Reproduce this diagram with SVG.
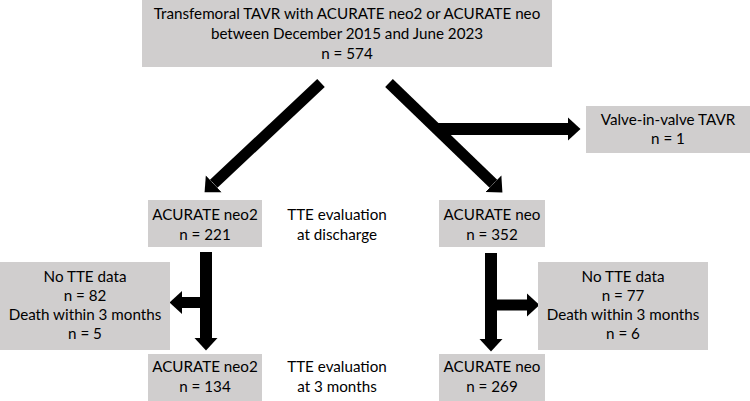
<svg xmlns="http://www.w3.org/2000/svg" width="750" height="401" viewBox="0 0 750 401">
<style>
.box{fill:#D0CECE;}
text{font-family:Lato,"Open Sans","Liberation Sans",sans-serif;font-size:15.2px;fill:#000;text-anchor:middle;}
.c{stroke:#000;fill:none;marker-end:url(#ah);}
</style>
<defs>
<marker id="ah" markerUnits="userSpaceOnUse" markerWidth="13" markerHeight="24" refX="0" refY="11.5" orient="auto" viewBox="0 0 13 23">
<path d="M0,0 L12.5,11.5 L0,23 Z" fill="#000"/>
</marker>
</defs>
<rect width="750" height="401" fill="#fff"/>
<g id="connectors">
<line class="c" x1="321" y1="83" x2="213.7" y2="183.8" stroke-width="11"/>
<line class="c" x1="389" y1="83" x2="493.4" y2="183.7" stroke-width="11"/>
<line class="c" x1="437" y1="129" x2="568" y2="129" stroke-width="12"/>
<line class="c" x1="206" y1="252" x2="206" y2="338" stroke-width="12"/>
<line class="c" x1="206" y1="302.5" x2="182" y2="302.5" stroke-width="11"/>
<line class="c" x1="491" y1="253" x2="491" y2="339" stroke-width="12"/>
<line class="c" x1="491" y1="305" x2="527" y2="305" stroke-width="11"/>
</g>
<g id="n-total">
<rect class="box" x="142" y="0" width="410" height="67"/>
<text x="347" y="19">Transfemoral TAVR with ACURATE neo2 or ACURATE neo</text>
<text x="347" y="39">between December 2015 and June 2023</text>
<text x="347" y="59">n = 574</text>
</g>
<g id="n-viv">
<rect class="box" x="586" y="106" width="164" height="47"/>
<text x="668" y="125">Valve-in-valve TAVR</text>
<text x="668" y="144">n = 1</text>
</g>
<g id="n-neo2-discharge">
<rect class="box" x="148" y="200" width="114" height="47"/>
<text x="205" y="220">ACURATE neo2</text>
<text x="205" y="240">n = 221</text>
</g>
<g id="label-discharge">
<text x="337" y="220">TTE evaluation</text>
<text x="337" y="240">at discharge</text>
</g>
<g id="n-neo-discharge">
<rect class="box" x="439" y="200" width="106" height="47"/>
<text x="492" y="220">ACURATE neo</text>
<text x="492" y="240">n = 352</text>
</g>
<g id="n-neo2-excluded">
<rect class="box" x="0" y="262" width="170" height="88"/>
<text x="85" y="282">No TTE data</text>
<text x="85" y="301">n = 82</text>
<text x="85" y="320">Death within 3 months</text>
<text x="85" y="339">n = 5</text>
</g>
<g id="n-neo-excluded">
<rect class="box" x="538" y="262" width="170" height="88"/>
<text x="623" y="282">No TTE data</text>
<text x="623" y="301">n = 77</text>
<text x="623" y="320">Death within 3 months</text>
<text x="623" y="339">n = 6</text>
</g>
<g id="n-neo2-3m">
<rect class="box" x="148" y="354" width="114" height="47"/>
<text x="205" y="372">ACURATE neo2</text>
<text x="205" y="392">n = 134</text>
</g>
<g id="label-3m">
<text x="337" y="372">TTE evaluation</text>
<text x="337" y="392">at 3 months</text>
</g>
<g id="n-neo-3m">
<rect class="box" x="439" y="354" width="106" height="47"/>
<text x="492" y="372">ACURATE neo</text>
<text x="492" y="392">n = 269</text>
</g>
</svg>
